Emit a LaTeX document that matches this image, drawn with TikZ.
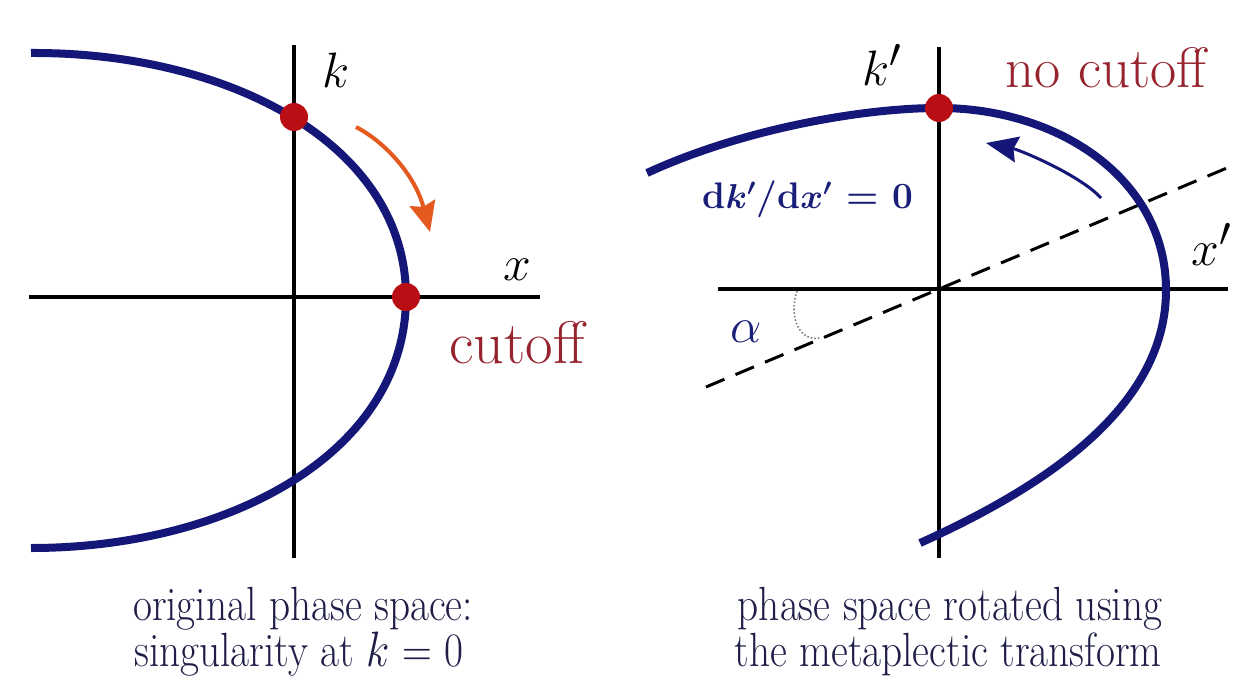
\documentclass[tikz,border=0pt]{standalone}
\usepackage{graphicx}
\usetikzlibrary{arrows.meta}
\definecolor{navy}{RGB}{20,22,120}
\definecolor{dotred}{RGB}{185,15,20}
\definecolor{labred}{RGB}{150,35,45}
\definecolor{arrorange}{RGB}{228,90,30}
\definecolor{captxt}{RGB}{30,30,72}
\definecolor{lblue}{RGB}{25,30,120}
\tikzset{
  axisline/.style={line width=1.75pt, black},
  phasecurve/.style={line width=4pt, navy},
  pdot/.style={circle, fill=dotred, minimum size=14pt, inner sep=0pt},
  biglab/.style={font=\fontsize{30pt}{36pt}\selectfont, inner sep=0pt},
  caplab/.style={font=\fontsize{24pt}{28pt}\selectfont, text=captxt, inner sep=0pt, anchor=base},
  dashline/.style={line width=1.5pt, black, dash pattern=on 10pt off 6pt},
}
\begin{document}
\begin{tikzpicture}[x=0.5pt,y=-0.5pt]
\useasboundingbox[fill=white] (0,0) rectangle (1234,684);
% ---------- left panel ----------
\coordinate (LVt) at (294,45);
\coordinate (LVb) at (294,558);
\coordinate (LHl) at (29,297);
\coordinate (LHr) at (540,297);
\coordinate (Ltop) at (31,53);
\coordinate (Lbot) at (31,548);
\draw[axisline] (LVt) -- (LVb);
\draw[axisline] (LHl) -- (LHr);
\draw[phasecurve] (Ltop) .. controls (230,52) and (406,145) .. (406,297)
                         .. controls (406,452) and (230,548) .. (Lbot);
\node[pdot] (dotk) at (294,117) {};
\node[pdot] (dotx) at (406,297) {};
\coordinate (oa1) at (356,127);
\coordinate (oa2) at (430,232);
\draw[arrorange, line width=2pt, -{Stealth[length=15pt,width=13pt,inset=2pt]}] (oa1) .. controls (385,142) and (415,175) .. (oa2);
\node[biglab, anchor=base] (klab) at (336,88) {$k$};
\node[biglab, anchor=base] (xlab) at (517,280) {$x$};
\node[biglab, anchor=base, text=labred] (cutlab) at (517,363) {cutoff};
% ---------- right panel ----------
\coordinate (RVt) at (939,47);
\coordinate (RVb) at (939,558);
\coordinate (RHl) at (718,289);
\coordinate (RHr) at (1228,289);
\coordinate (Dl) at (706,387);
\coordinate (Dr) at (1234,165);
\coordinate (Rleft) at (647,173);
\coordinate (Rtop) at (939,108);
\coordinate (Rright) at (1166,290);
\coordinate (Rbot) at (920,543);
\draw[axisline] (RVt) -- (RVb);
\draw[axisline] (RHl) -- (RHr);
\draw[dashline] (Dl) -- (Dr);
\draw[gray, line width=0.8pt, densely dotted] (797,291) .. controls (788,318) and (800,342) .. (820,338);
\draw[phasecurve] (Rleft) .. controls (740,130) and (860,108) .. (Rtop)
                          .. controls (1060,108) and (1166,180) .. (Rright)
                          .. controls (1166,400) and (1060,480) .. (Rbot);
\node[pdot] (dotkp) at (Rtop) {};
\coordinate (ba1) at (1101,198);
\coordinate (ba2) at (986,143);
\draw[navy, line width=1.5pt, -{Stealth[length=16pt,width=13pt,inset=2pt]}] (ba1) .. controls (1080,175) and (1020,150) .. (ba2);
\node[biglab, anchor=base east] (kplab) at (902,86) {$k'$};
\node[font=\fontsize{28.5pt}{34pt}\selectfont, inner sep=0pt, anchor=base east, text=labred] (nocut) at (1207,88) {no cutoff};
\node[biglab, anchor=base west] (xplab) at (1191,265) {$x'$};
\node[font=\fontsize{18.5pt}{22pt}\selectfont\bfseries\boldmath, text=lblue, inner sep=0pt, anchor=base] (dlab) at (808,208) {d$k'$/d$x'$ = 0};
\node[font=\fontsize{28pt}{32pt}\selectfont, text=lblue, inner sep=0pt, anchor=base] (alab) at (746,342) {$\alpha$};
% ---------- captions ----------
\node[caplab] (capL1) at (303,620) {\scalebox{0.86}[1]{original phase space:}};
\node[caplab] (capL2) at (299,666) {\scalebox{0.86}[1]{singularity at $k$ = 0}};
\node[caplab] (capR1) at (950,620) {\scalebox{0.86}[1]{phase space rotated using}};
\node[caplab] (capR2) at (948,666) {\scalebox{0.86}[1]{the metaplectic transform}};
\end{tikzpicture}
\end{document}
